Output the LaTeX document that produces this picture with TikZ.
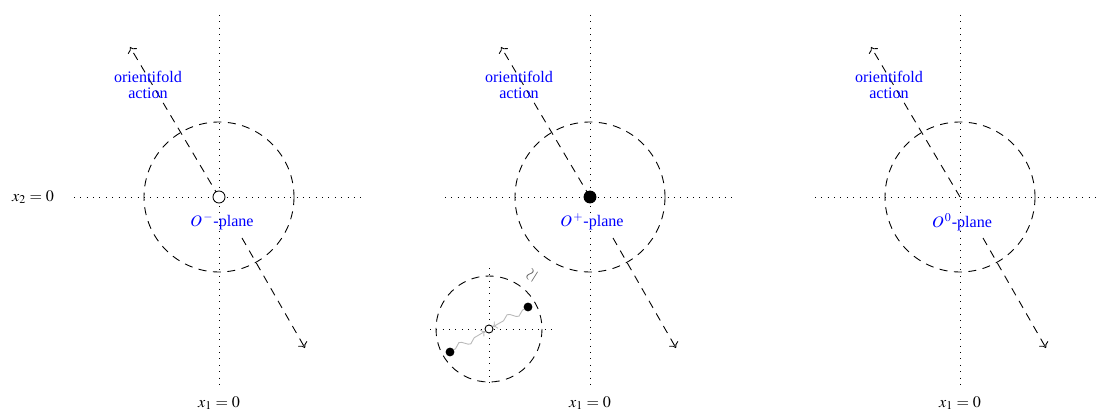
\documentclass[tikz,border=0pt]{standalone}
\usepackage{mathptmx}
\usepackage[no-math]{fontspec}
\setmainfont{Liberation Serif}
\usetikzlibrary{decorations.pathmorphing,arrows.meta}
\begin{document}
\begin{tikzpicture}[x=0.621pt,y=-0.621pt,
  axis/.style={dash pattern=on 0.45pt off 3.5pt, line width=0.5pt},
  circ/.style={dash pattern=on 5pt off 4pt, line width=0.55pt},
  act/.style={dash pattern=on 5pt off 4pt, line width=0.55pt, -{To[length=3.2pt,width=6.5pt]}},
  lbl/.style={text=blue, align=center, inner sep=1pt},
  coordlbl/.style={inner sep=1pt},
  opendot/.style={circle, draw=black, fill=white, line width=0.55pt, inner sep=0pt},
  fulldot/.style={circle, fill=black, inner sep=0pt},
  wave/.style={gray!55, line width=0.55pt, -{To[length=2.5pt,width=5pt]}, decorate,
    decoration={snake, amplitude=2.2pt, segment length=12pt, post length=3pt, pre length=1pt}}
]
\useasboundingbox (0,0) rectangle (1099,414);

\foreach \i/\cx in {1/219, 2/590, 3/960}{
  \coordinate (o\i) at (\cx,197);
  \coordinate (top\i) at (\cx,15);
  \coordinate (bot\i) at (\cx,388);
  \coordinate (lft\i) at (\cx-145,197);
  \coordinate (rgt\i) at (\cx+145,197);
  \draw[axis] (top\i) -- (bot\i);
  \draw[axis] (lft\i) -- (rgt\i);
  \draw[circ] (o\i) circle[radius=75];
  \coordinate (up\i) at (\cx-89,47);
  \coordinate (ls\i) at (\cx+23,238);
  \coordinate (le\i) at (\cx+86,348);
  \draw[act] (o\i) -- (up\i);
  \draw[act] (ls\i) -- (le\i);
  \node[lbl] (act\i) at (\cx-71,85) {orientifold\\[-2pt]action};
  \node[coordlbl] (xa\i) at (\cx,403) {$x_1=0$};
}
\node[coordlbl] (xb) at (33,197) {$x_2=0$};

\node[lbl] (pl1) at (222,222) {$O^{\,-}$-plane};
\node[lbl] (pl2) at (592,222) {$O^{\,+}$-plane};
\node[lbl] (pl3) at (962,222) {$O^{\,0}$-plane};

\node[opendot, minimum size=7.5pt] (d1) at (o1) {};
\node[fulldot, minimum size=8pt] (d2) at (o2) {};

% inset
\coordinate (ic) at (489,329);
\coordinate (itop) at (489,268);
\coordinate (ibot) at (489,384);
\coordinate (ilft) at (430,329);
\coordinate (irgt) at (556,329);
\draw[axis] (itop) -- (ibot);
\draw[axis] (ilft) -- (irgt);
\draw[circ] (ic) circle[radius=53];
\node[opendot, minimum size=5pt] (ido) at (ic) {};
\node[fulldot, minimum size=5.5pt] (pa) at (528,307) {};
\node[fulldot, minimum size=5.5pt] (pb) at (450,352) {};
\draw[wave] (pa) -- (ido);
\draw[wave] (pb) -- (ido);
\node[rotate=58, text=gray!70!black, scale=1.1] (sim) at (532,275) {$\simeq$};
\end{tikzpicture}
\end{document}
